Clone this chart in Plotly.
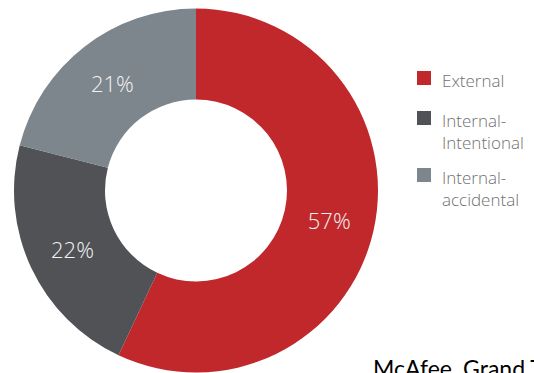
import plotly.graph_objects as go

categories = ["External", "Internal-Intentional", "Internal-accidental"]
legend_labels = ["External", "Internal-<br>Intentional", "Internal-<br>accidental"]
shares = [57, 22, 21]
colors = ["#C0282B", "#505256", "#7D858D"]
source_note = "McAfee, Grand Thornton"

W, H = 534, 373
cx, cy, r = 196, 190.5, 182

fig = go.Figure(go.Pie(
    labels=categories,
    values=shares,
    hole=0.5,
    sort=False,
    direction="clockwise",
    rotation=0,
    marker=dict(colors=colors, line=dict(width=0)),
    texttemplate="%{value}%",
    textposition="inside",
    insidetextorientation="horizontal",
    textfont=dict(family="Open Sans", size=22, color="#F2F2F2", weight=300),
    domain=dict(x=[(cx - r) / W, (cx + r) / W], y=[1 - (cy + r) / H, 1 - (cy - r) / H]),
    hoverinfo="label+percent",
    showlegend=False,
))

# custom legend (swatch + label), positioned in pixels
LEG_SWATCH_X = 417
LEG_SWATCH = 14
LEG_TEXT_X = 441
LEG_FIRST_BASELINES = [87, 127, 184]
LEG_FONT = 17
LEG_LINE = 1.3 * LEG_FONT

shapes = []
annotations = []
for i, label in enumerate(legend_labels):
    b0 = LEG_FIRST_BASELINES[i]
    n = label.count("<br>") + 1
    sc = b0 - 9
    shapes.append(dict(
        type="rect", xref="paper", yref="paper",
        x0=LEG_SWATCH_X / W, x1=(LEG_SWATCH_X + LEG_SWATCH) / W,
        y0=1 - (sc + LEG_SWATCH / 2) / H, y1=1 - (sc - LEG_SWATCH / 2) / H,
        fillcolor=colors[i], line=dict(width=0),
    ))
    ymid = b0 + (n - 1) * LEG_LINE / 2 - 0.39 * LEG_FONT
    annotations.append(dict(
        text=label, x=LEG_TEXT_X / W, y=1 - ymid / H, xref="paper", yref="paper",
        xanchor="left", yanchor="middle", align="left", showarrow=False, borderpad=0,
        font=dict(family="Open Sans", size=LEG_FONT, color="#707070", weight=300),
    ))

annotations.append(dict(
    text=source_note, x=371 / W, y=1 - 352 / H, xref="paper", yref="paper",
    xanchor="left", yanchor="top", showarrow=False,
    font=dict(family="Lato", size=23, color="#000000"),
))

fig.update_layout(
    width=W, height=H,
    margin=dict(l=0, r=0, t=0, b=0),
    paper_bgcolor="white",
    plot_bgcolor="white",
    shapes=shapes,
    annotations=annotations,
)

fig.write_html("out.html")
